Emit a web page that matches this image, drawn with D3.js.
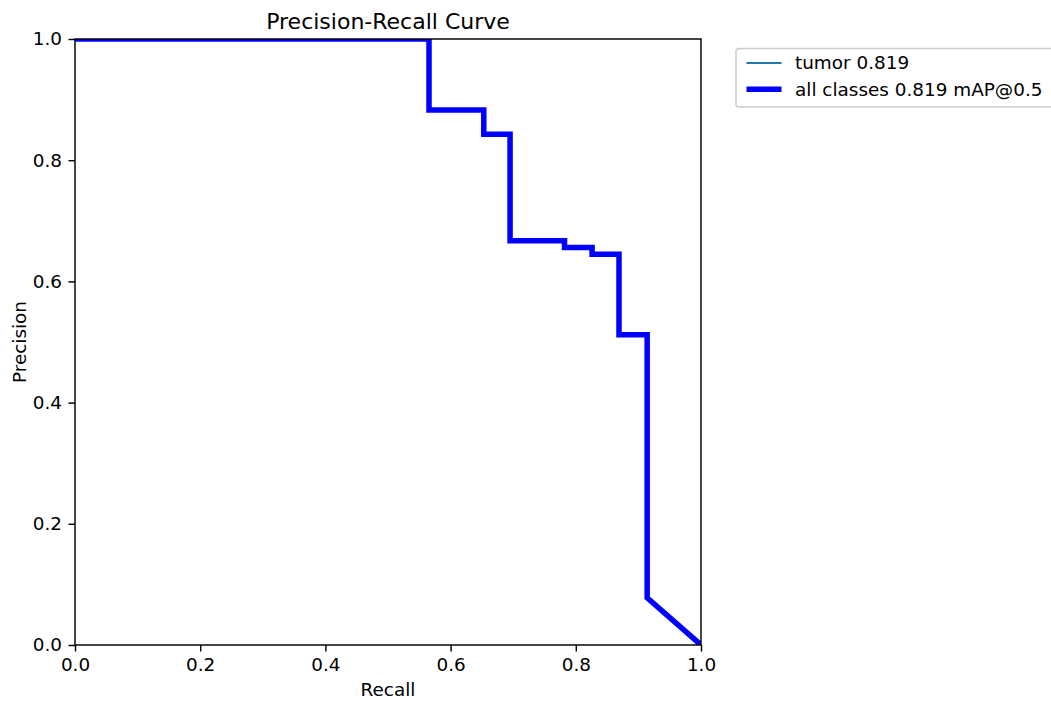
<!DOCTYPE html>
<html>
<head>
<meta charset="utf-8">
<script src="https://cdn.jsdelivr.net/npm/d3@7"></script>
<style>
  body { margin: 0; background: #fff; }
  svg { font-family: "DejaVu Sans", sans-serif; }
</style>
</head>
<body>
<div id="chart"></div>
<script>
// PR curve vertices (recall, precision)
const recall    = [0, 0.5655, 0.5655, 0.653, 0.653, 0.695, 0.695, 0.782, 0.782, 0.826, 0.826, 0.869, 0.869, 0.914, 0.914, 1.0];
const precision = [1, 1,      0.883,  0.883, 0.843, 0.843, 0.667, 0.667, 0.656, 0.656, 0.645, 0.645, 0.512, 0.512, 0.078, 0.0];
const ticks = [0, 0.2, 0.4, 0.6, 0.8, 1.0];
const legendLabels = ["tumor 0.819", "all classes 0.819 mAP@0.5"];

const width = 1051, height = 702;
const margin = {top: 39, right: 350, bottom: 57, left: 75};
const fontSize = 18.4;

const svg = d3.select("#chart").append("svg")
    .attr("width", width)
    .attr("height", height);

const x = d3.scaleLinear().domain([0, 1]).range([margin.left, width - margin.right]);
const y = d3.scaleLinear().domain([0, 1]).range([height - margin.bottom, margin.top]);

const points = recall.map((r, i) => [r, precision[i]]);
const line = d3.line().x(d => x(d[0])).y(d => y(d[1]));

// clip to the axes box
svg.append("clipPath").attr("id", "clip")
    .append("rect")
    .attr("x", x(0)).attr("y", y(1))
    .attr("width", x(1) - x(0)).attr("height", y(0) - y(1));

const plot = svg.append("g").attr("clip-path", "url(#clip)");

// per class line (thin) then all classes (thick blue)
plot.append("path")
    .datum(points)
    .attr("fill", "none")
    .attr("stroke", "#1f77b4")
    .attr("stroke-width", 1.85)
    .attr("d", line);

plot.append("path")
    .datum(points)
    .attr("fill", "none")
    .attr("stroke", "#0000ff")
    .attr("stroke-width", 5.5)
    .attr("d", line);

// axes
const xAxis = svg.append("g")
    .attr("transform", `translate(0,${y(0)})`)
    .call(d3.axisBottom(x).tickValues(ticks).tickFormat(d3.format(".1f")).tickSize(6.5).tickPadding(6.4))
    .call(g => g.select(".domain").remove());

const yAxis = svg.append("g")
    .attr("transform", `translate(${x(0)},0)`)
    .call(d3.axisLeft(y).tickValues(ticks).tickFormat(d3.format(".1f")).tickSize(6.5).tickPadding(6.5))
    .call(g => g.select(".domain").remove());

[xAxis, yAxis].forEach(g => {
    g.selectAll("text").attr("font-size", fontSize).attr("fill", "#000").attr("font-family", "DejaVu Sans");
    g.selectAll("line").attr("stroke", "#000").attr("stroke-width", 1.45);
});

// spines
svg.append("rect")
    .attr("x", x(0)).attr("y", y(1))
    .attr("width", x(1) - x(0)).attr("height", y(0) - y(1))
    .attr("fill", "none")
    .attr("stroke", "#000")
    .attr("stroke-width", 1.45);

// title and labels
svg.append("text")
    .attr("x", (x(0) + x(1)) / 2).attr("y", 28.5)
    .attr("text-anchor", "middle")
    .attr("font-size", 22)
    .text("Precision-Recall Curve");

svg.append("text")
    .attr("x", (x(0) + x(1)) / 2).attr("y", 696)
    .attr("text-anchor", "middle")
    .attr("font-size", fontSize)
    .text("Recall");

svg.append("text")
    .attr("transform", `translate(25.5,${(y(0) + y(1)) / 2}) rotate(-90)`)
    .attr("text-anchor", "middle")
    .attr("font-size", fontSize)
    .text("Precision");

// legend
const legend = svg.append("g").attr("transform", "translate(736,48.5)");
legend.append("rect")
    .attr("x", 0).attr("y", 0)
    .attr("width", 320).attr("height", 58.5)
    .attr("rx", 3)
    .attr("fill", "#fff")
    .attr("fill-opacity", 0.8)
    .attr("stroke", "#cccccc")
    .attr("stroke-width", 1.45);

const legendStyles = [{color: "#1f77b4", w: 1.85}, {color: "#0000ff", w: 5.5}];
legendLabels.forEach((label, i) => {
    const ly = 14.5 + i * 26.3;
    legend.append("line")
        .attr("x1", 10.5).attr("x2", 45.5)
        .attr("y1", ly).attr("y2", ly)
        .attr("stroke", legendStyles[i].color)
        .attr("stroke-width", legendStyles[i].w);
    legend.append("text")
        .attr("x", 59).attr("y", ly)
        .attr("dy", "0.35em")
        .attr("font-size", fontSize)
        .text(label);
});
</script>
</body>
</html>
